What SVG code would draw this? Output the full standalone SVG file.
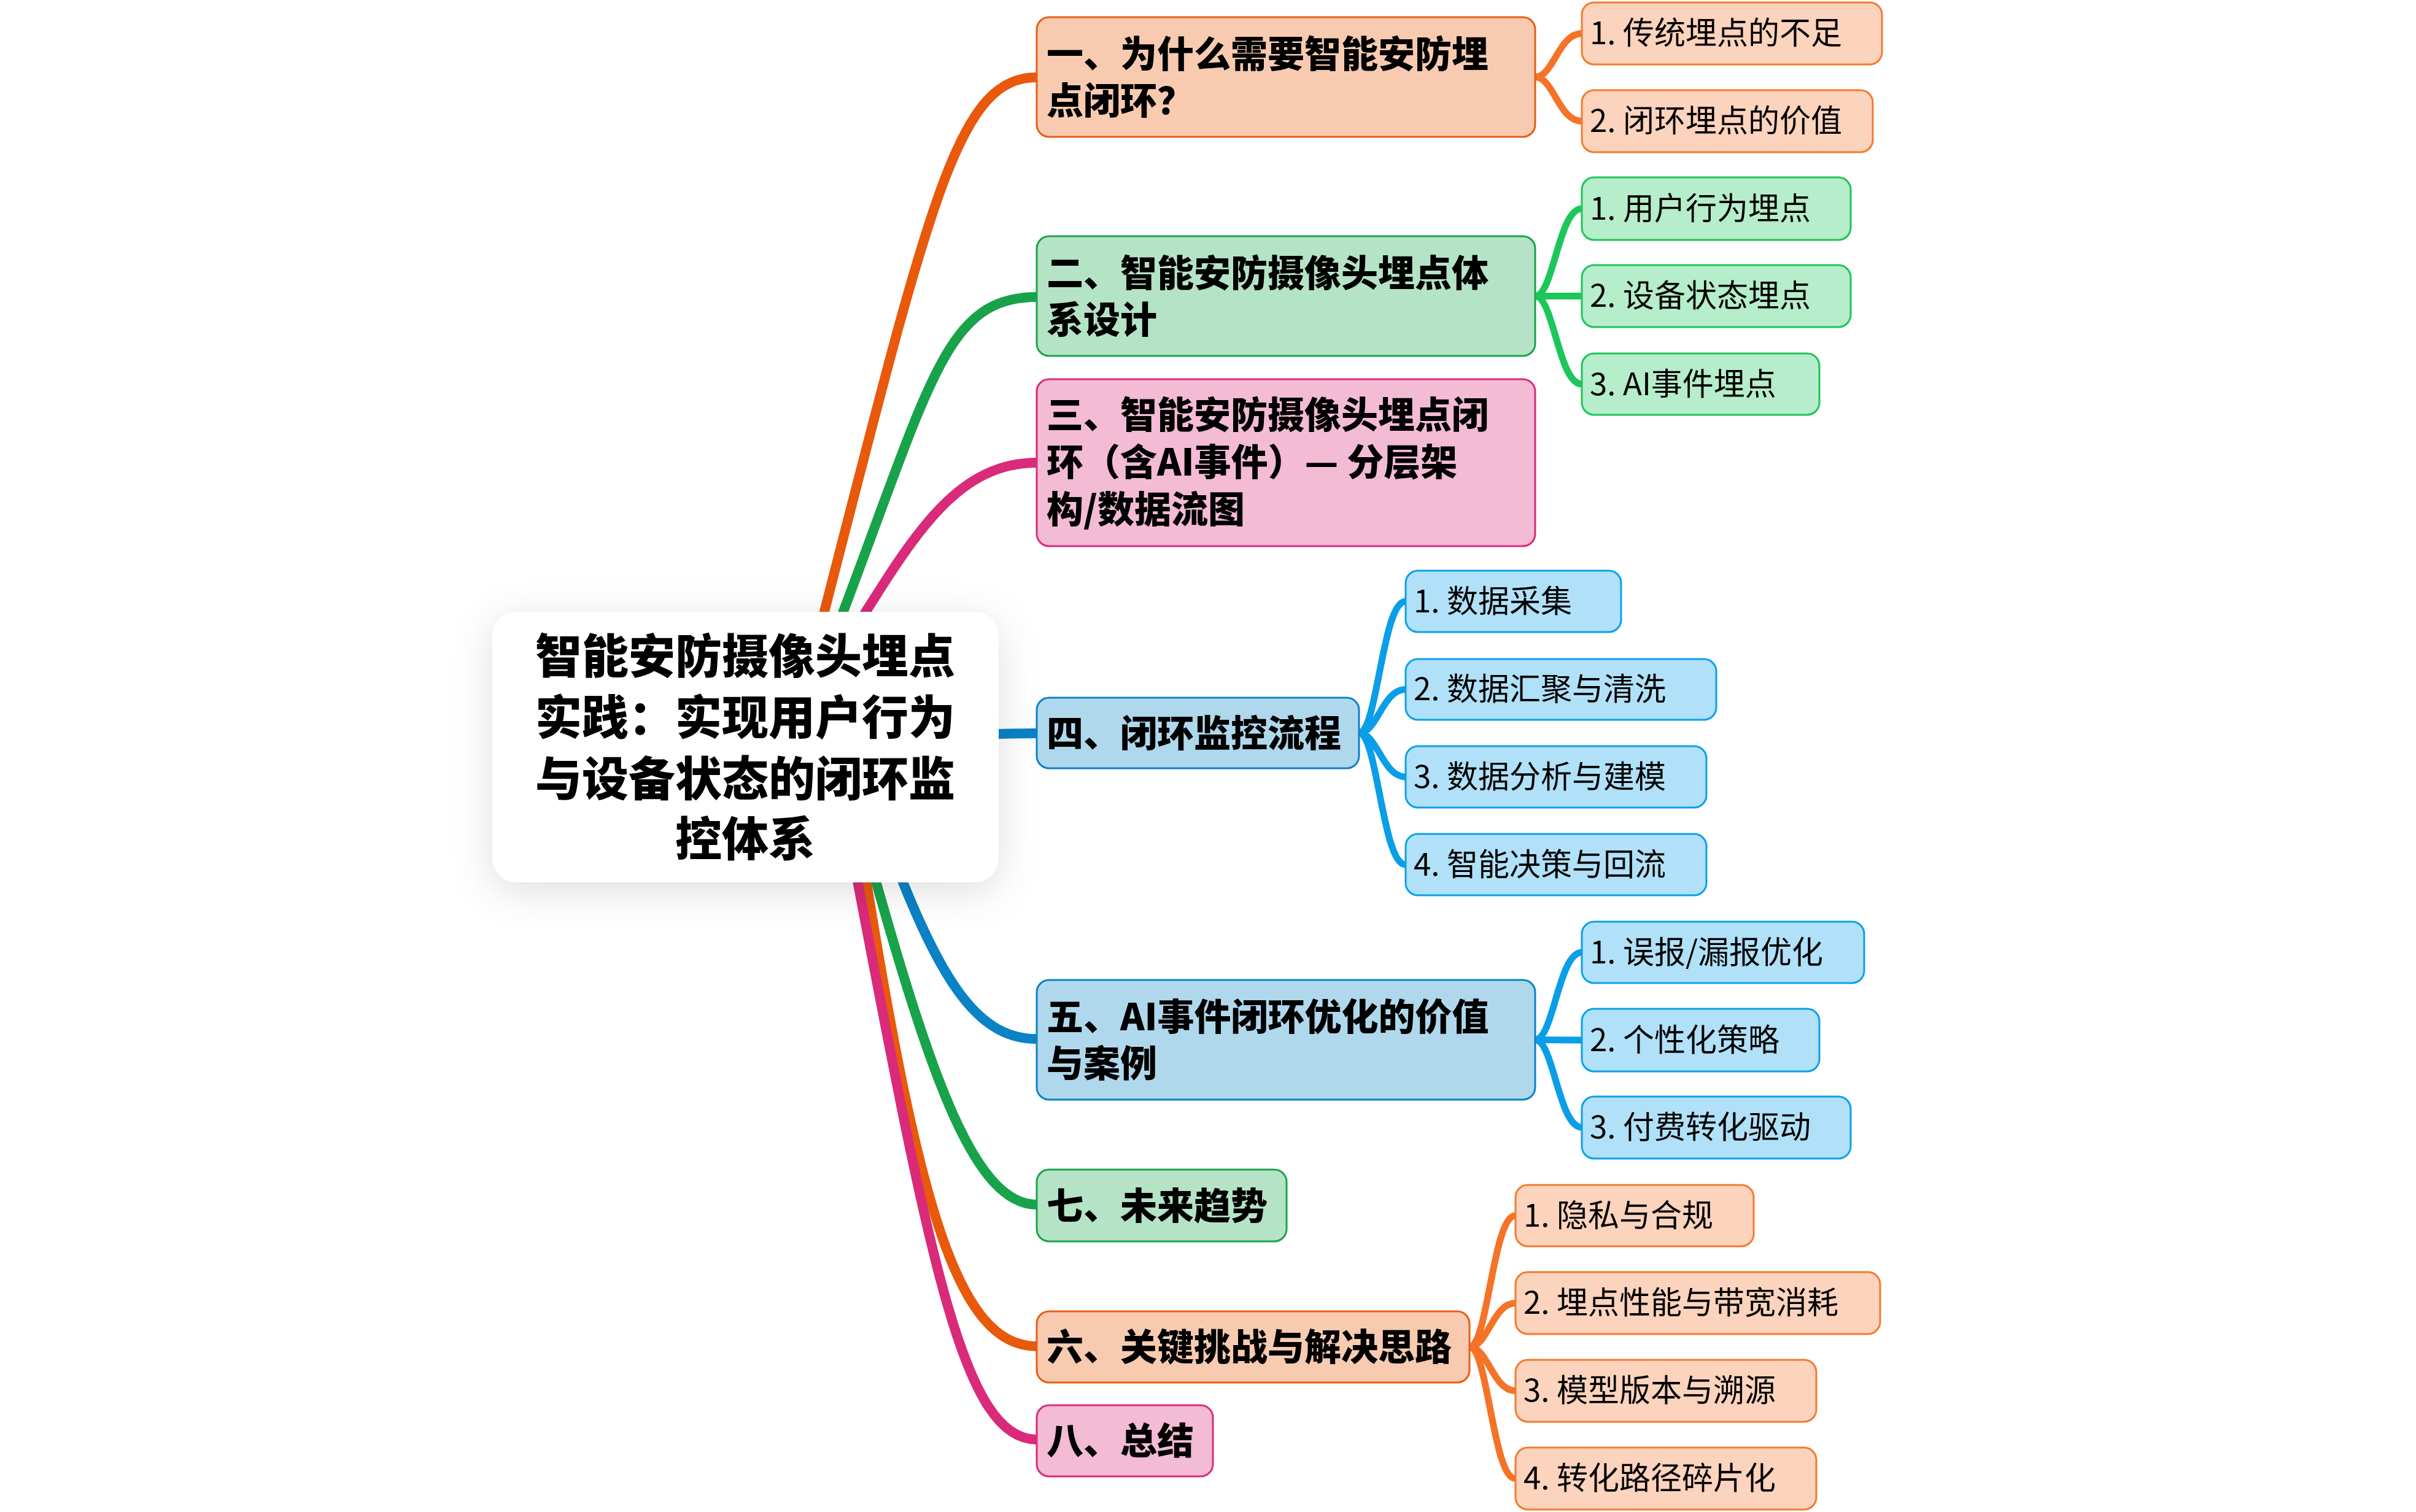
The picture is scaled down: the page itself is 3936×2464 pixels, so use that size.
<svg xmlns="http://www.w3.org/2000/svg" width="3936" height="2464" viewBox="0 0 3936 2464">
<defs>
<filter id="sh" x="-30%" y="-30%" width="160%" height="170%">
<feDropShadow dx="0" dy="14" stdDeviation="32" flood-color="#000" flood-opacity="0.13"/>
</filter>
<style>
text{font-family:"Noto Sans CJK SC","Noto Sans",sans-serif;fill:#000}
.root{font-size:76px;font-weight:900;text-anchor:middle}
.l1{font-size:60px;font-weight:900}
.l2{font-size:51px;font-weight:400}
.mb{fill:none;stroke-width:16;stroke-linecap:round}
.sb{fill:none;stroke-width:11;stroke-linecap:butt}
.n1o{fill:#F8CBB1;stroke:#E85D12;stroke-width:3}
.n1g{fill:#B5E3C6;stroke:#1BA34C;stroke-width:3}
.n1p{fill:#F3BBD4;stroke:#DB2B7B;stroke-width:3}
.n1b{fill:#B0D8EC;stroke:#0A83C6;stroke-width:3}
.n2o{fill:#FCD3BD;stroke:#F47A30;stroke-width:3}
.n2g{fill:#B6EDCB;stroke:#1EC45A;stroke-width:3}
.n2b{fill:#B1E1F8;stroke:#0BA0EA;stroke-width:3}
</style>
</defs>
<rect width="3936" height="2464" fill="#fff"/>
<g id="connectors">
<path class="mb" stroke="#E8590C" d="M1337,1020 C1517,320 1560,126 1689,126"/>
<path class="mb" stroke="#18A34A" d="M1365,1020 C1517,620 1540,484 1689,484"/>
<path class="mb" stroke="#DA2A7A" d="M1396,1020 C1490,870 1560,754 1689,754"/>
<path class="mb" stroke="#0A82C6" d="M1500,1200 C1600,1198 1620,1195 1689,1195"/>
<path class="mb" stroke="#0A82C6" d="M1462,1415 C1540,1615 1600,1693 1689,1693"/>
<path class="mb" stroke="#18A34A" d="M1421,1415 C1519,1765 1590,1963 1689,1963"/>
<path class="mb" stroke="#E8590C" d="M1408,1415 C1496,1965 1560,2194 1689,2194"/>
<path class="mb" stroke="#DA2A7A" d="M1393,1415 C1517,2065 1570,2346 1689,2346"/>
<g stroke="#F47328">
<path class="sb" d="M2501,125.5 C2531,125.5 2539,54.5 2577,54.5"/>
<path class="sb" d="M2501,125.5 C2531,125.5 2539,197.5 2577,197.5"/>
</g>
<g stroke="#1DC65A">
<path class="sb" d="M2501,482.5 C2531,482.5 2539,340 2577,340"/>
<path class="sb" d="M2501,482.5 L2577,482.5"/>
<path class="sb" d="M2501,482.5 C2531,482.5 2539,626 2577,626"/>
</g>
<g stroke="#0A9EE8">
<path class="sb" d="M2214,1194.5 C2244,1194.5 2252,980 2290,980"/>
<path class="sb" d="M2214,1194.5 C2244,1194.5 2252,1123.5 2290,1123.5"/>
<path class="sb" d="M2214,1194.5 C2244,1194.5 2252,1266 2290,1266"/>
<path class="sb" d="M2214,1194.5 C2244,1194.5 2252,1409 2290,1409"/>
<path class="sb" d="M2501,1694.5 C2531,1694.5 2539,1552 2577,1552"/>
<path class="sb" d="M2501,1694.5 L2577,1695"/>
<path class="sb" d="M2501,1694.5 C2531,1694.5 2539,1837 2577,1837"/>
</g>
<g stroke="#F47328">
<path class="sb" d="M2394,2195 C2424,2195 2432,1981 2469,1981"/>
<path class="sb" d="M2394,2195 C2424,2195 2432,2123.5 2469,2123.5"/>
<path class="sb" d="M2394,2195 C2424,2195 2432,2266.5 2469,2266.5"/>
<path class="sb" d="M2394,2195 C2424,2195 2432,2409.5 2469,2409.5"/>
</g>
</g>
<g id="root">
<rect x="802" y="997" width="825" height="441" rx="40" fill="#fff" filter="url(#sh)"/>
<text class="root"><tspan x="1214" y="1097">智能安防摄像头埋点</tspan><tspan x="1214" y="1197">实践：实现用户行为</tspan><tspan x="1214" y="1297">与设备状态的闭环监</tspan><tspan x="1214" y="1395">控体系</tspan></text>
</g>
<g id="n1">
<rect class="n1o" x="1689" y="28" width="812" height="195" rx="20"/>
<text class="l1"><tspan x="1705" y="110">一、为什么需要智能安防埋</tspan><tspan x="1705" y="186">点闭环？</tspan></text>
</g>
<g id="n1-1"><rect class="n2o" x="2577" y="4" width="489" height="101" rx="20"/><text class="l2" x="2590" y="72">1. 传统埋点的不足</text></g>
<g id="n1-2"><rect class="n2o" x="2577" y="147" width="474" height="101" rx="20"/><text class="l2" x="2590" y="215">2. 闭环埋点的价值</text></g>
<g id="n2">
<rect class="n1g" x="1689" y="385" width="812" height="195" rx="20"/>
<text class="l1"><tspan x="1705" y="467">二、智能安防摄像头埋点体</tspan><tspan x="1705" y="543">系设计</tspan></text>
</g>
<g id="n2-1"><rect class="n2g" x="2577" y="289" width="438" height="102" rx="20"/><text class="l2" x="2590" y="358">1. 用户行为埋点</text></g>
<g id="n2-2"><rect class="n2g" x="2577" y="432" width="438" height="101" rx="20"/><text class="l2" x="2590" y="500">2. 设备状态埋点</text></g>
<g id="n2-3"><rect class="n2g" x="2577" y="576" width="387" height="100" rx="20"/><text class="l2" x="2590" y="644">3. AI事件埋点</text></g>
<g id="n3">
<rect class="n1p" x="1689" y="618" width="812" height="272" rx="20"/>
<text class="l1"><tspan x="1705" y="698">三、智能安防摄像头埋点闭</tspan><tspan x="1705" y="775">环（含AI事件）— 分层架</tspan><tspan x="1705" y="852">构/数据流图</tspan></text>
</g>
<g id="n4">
<rect class="n1b" x="1689" y="1137" width="525" height="115" rx="20"/>
<text class="l1" x="1705" y="1217">四、闭环监控流程</text>
</g>
<g id="n4-1"><rect class="n2b" x="2290" y="930" width="351" height="100" rx="20"/><text class="l2" x="2303" y="998">1. 数据采集</text></g>
<g id="n4-2"><rect class="n2b" x="2290" y="1074" width="506" height="99" rx="20"/><text class="l2" x="2303" y="1141">2. 数据汇聚与清洗</text></g>
<g id="n4-3"><rect class="n2b" x="2290" y="1216" width="490" height="100" rx="20"/><text class="l2" x="2303" y="1284">3. 数据分析与建模</text></g>
<g id="n4-4"><rect class="n2b" x="2290" y="1359" width="490" height="100" rx="20"/><text class="l2" x="2303" y="1427">4. 智能决策与回流</text></g>
<g id="n5">
<rect class="n1b" x="1689" y="1597" width="812" height="195" rx="20"/>
<text class="l1"><tspan x="1705" y="1679">五、AI事件闭环优化的价值</tspan><tspan x="1705" y="1755">与案例</tspan></text>
</g>
<g id="n5-1"><rect class="n2b" x="2577" y="1502" width="460" height="100" rx="20"/><text class="l2" x="2590" y="1570">1. 误报/漏报优化</text></g>
<g id="n5-2"><rect class="n2b" x="2577" y="1644" width="387" height="102" rx="20"/><text class="l2" x="2590" y="1713">2. 个性化策略</text></g>
<g id="n5-3"><rect class="n2b" x="2577" y="1787" width="438" height="101" rx="20"/><text class="l2" x="2590" y="1855">3. 付费转化驱动</text></g>
<g id="n7">
<rect class="n1g" x="1689" y="1906" width="407" height="117" rx="20"/>
<text class="l1" x="1705" y="1987">七、未来趋势</text>
</g>
<g id="n6">
<rect class="n1o" x="1689" y="2137" width="705" height="116" rx="20"/>
<text class="l1" x="1705" y="2217">六、关键挑战与解决思路</text>
</g>
<g id="n6-1"><rect class="n2o" x="2469" y="1931" width="388" height="100" rx="20"/><text class="l2" x="2482" y="1999">1. 隐私与合规</text></g>
<g id="n6-2"><rect class="n2o" x="2469" y="2073" width="594" height="101" rx="20"/><text class="l2" x="2482" y="2141">2. 埋点性能与带宽消耗</text></g>
<g id="n6-3"><rect class="n2o" x="2469" y="2216" width="490" height="101" rx="20"/><text class="l2" x="2482" y="2284">3. 模型版本与溯源</text></g>
<g id="n6-4"><rect class="n2o" x="2469" y="2359" width="490" height="101" rx="20"/><text class="l2" x="2482" y="2427">4. 转化路径碎片化</text></g>
<g id="n8">
<rect class="n1p" x="1689" y="2290" width="287" height="116" rx="20"/>
<text class="l1" x="1705" y="2370">八、总结</text>
</g>
</svg>
